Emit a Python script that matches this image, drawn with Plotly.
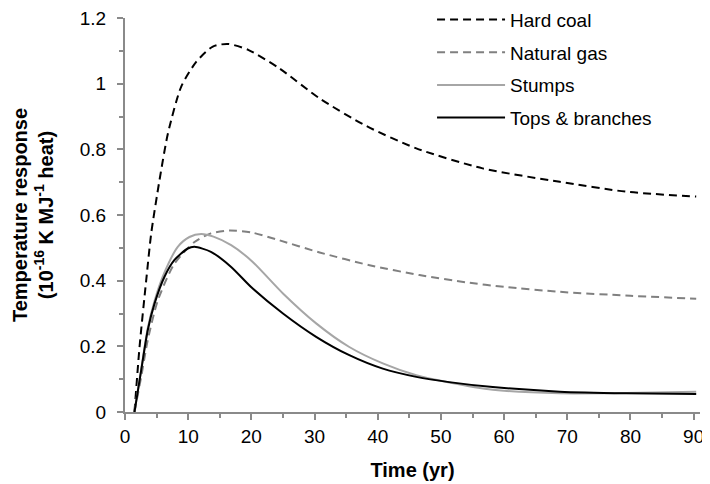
import plotly.graph_objects as go

# Data
coal_x = [1.5, 2.3, 3.35, 4.15, 5.46, 6.8, 8.9, 11.3, 13.9, 16.3, 19.5, 24.4, 30.8, 38.2, 46.1, 56.6, 68.8, 79.3, 90.4]
coal_y = [0.0, 0.198, 0.40, 0.544, 0.706, 0.849, 0.991, 1.067, 1.113, 1.121, 1.103, 1.047, 0.955, 0.871, 0.803, 0.742, 0.701, 0.671, 0.656]

gas_x = [1.5, 2.56, 3.6, 5.2, 7.83, 11.0, 13.6, 16.5, 20.0, 23.9, 30.8, 38.7, 46.6, 54.0, 60.0, 68.8, 80.0, 90.4]
gas_y = [0.0, 0.107, 0.219, 0.34, 0.452, 0.518, 0.544, 0.553, 0.547, 0.526, 0.486, 0.447, 0.417, 0.395, 0.381, 0.366, 0.354, 0.345]

stumps_x = [1.5, 2.56, 3.6, 4.67, 6.25, 8.35, 10.2, 12.05, 14.0, 16.8, 20.0, 25.0, 30.25, 35.5, 40.8, 46.1, 51.3, 58.2, 68.8, 79.3, 90.4]
stumps_y = [0.0, 0.13, 0.255, 0.338, 0.425, 0.503, 0.533, 0.542, 0.534, 0.508, 0.461, 0.361, 0.27, 0.198, 0.148, 0.112, 0.09, 0.068, 0.057, 0.058, 0.062]

tops_x = [1.5, 2.56, 3.6, 4.67, 6.25, 7.83, 9.94, 11.0, 13.6, 16.8, 20.0, 25.0, 30.25, 35.5, 40.8, 46.1, 51.3, 58.2, 68.8, 79.3, 90.4]
tops_y = [0.0, 0.127, 0.249, 0.33, 0.412, 0.463, 0.498, 0.503, 0.488, 0.442, 0.38, 0.30, 0.229, 0.173, 0.132, 0.107, 0.091, 0.076, 0.062, 0.057, 0.055]

names = ["Hard coal", "Natural gas", "Stumps", "Tops & branches"]
colors = ["#000000", "#808080", "#a6a6a6", "#000000"]
dashes = ["8px,5px", "8px,5px", "solid", "solid"]

x_ticks = [0, 10, 20, 30, 40, 50, 60, 70, 80, 90]
y_ticks = [0, 0.2, 0.4, 0.6, 0.8, 1.0, 1.2]
y_ticklabels = ["0", "0.2", "0.4", "0.6", "0.8", "1", "1.2"]

series = [(coal_x, coal_y), (gas_x, gas_y), (stumps_x, stumps_y), (tops_x, tops_y)]

fig = go.Figure()
for i, ((xs, ys), nm, col, dsh) in enumerate(zip(series, names, colors, dashes)):
    fig.add_trace(go.Scatter(
        x=xs, y=ys, name=nm, mode="lines",
        line=dict(color=col, width=2, dash=dsh, shape="spline", smoothing=0.7),
        legendgroup=str(i),
    ))

axis_col = "#8a8a8a"
font_family = "Liberation Sans, Arial, sans-serif"

# the page body adds an 8px margin, so the figure is sized to fit inside the window
fig.update_layout(
    width=702, height=476,
    margin=dict(l=117, r=10, t=10, b=72, autoexpand=False),
    paper_bgcolor="white", plot_bgcolor="white",
    font=dict(family=font_family, size=19, color="#000000"),
    showlegend=True,
    legend=dict(
        x=0.534, y=1.044, xanchor="left", yanchor="top",
        bgcolor="rgba(0,0,0,0)", font=dict(size=19, color="#000000"),
        tracegroupgap=5, itemwidth=68,
    ),
    xaxis=dict(
        range=[0, 91], tickmode="array", tickvals=x_ticks,
        ticks="outside", ticklen=6, tickwidth=1.5, tickcolor=axis_col,
        showline=True, linecolor=axis_col, linewidth=2,
        showgrid=False, zeroline=False, automargin=False,
        ticklabeloverflow="allow",
        minor=dict(dtick=5, tick0=0, ticks="outside", ticklen=4, tickcolor=axis_col, tickwidth=1.5, showgrid=False),
        tickfont=dict(size=19, color="#000000"),
        title=dict(text="<b>Time (yr)</b>", font=dict(size=20, color="#000000"), standoff=17),
    ),
    yaxis=dict(
        range=[0, 1.2], tickmode="array", tickvals=y_ticks, ticktext=y_ticklabels,
        ticks="outside", ticklen=6, tickwidth=1.5, tickcolor=axis_col,
        showline=True, linecolor=axis_col, linewidth=2,
        showgrid=False, zeroline=False, automargin=False,
        ticklabelstandoff=7, ticklabeloverflow="allow",
        minor=dict(dtick=0.1, tick0=0, ticks="outside", ticklen=4, tickcolor=axis_col, tickwidth=1.5, showgrid=False),
        tickfont=dict(size=19, color="#000000"),
        title=dict(text="<b>Temperature response<br>(10<sup>-16</sup> K MJ<sup>-1</sup> heat)</b>",
                   font=dict(size=20, color="#000000"), standoff=21),
    ),
)

fig.write_html("out.html")
